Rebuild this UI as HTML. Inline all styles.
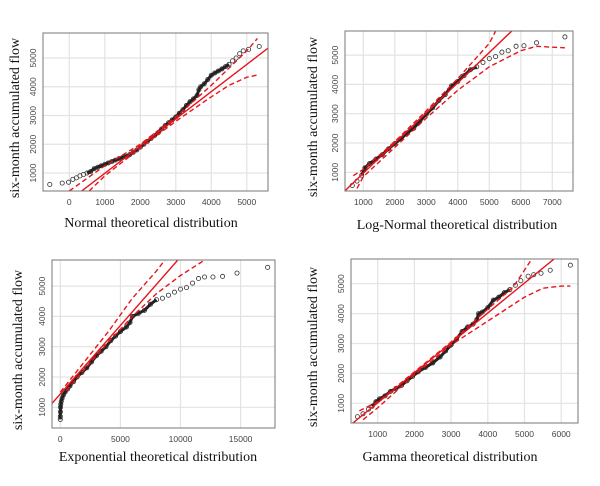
<!DOCTYPE html>
<html><head><meta charset="utf-8"><style>
html,body{margin:0;padding:0;background:#fff;}
svg{display:block;}
.tick{font-family:"Liberation Sans",sans-serif;font-size:8.5px;fill:#444;}
.title{font-family:"Liberation Serif",serif;font-size:14px;fill:#111;}
</style></head><body>
<svg id="c" width="600" height="486" viewBox="0 0 600 486" xmlns="http://www.w3.org/2000/svg"></svg>
<script>
// ---- Normal panel data
const normX=[-550,-200,-20,100,200,300,400,500,600,700,800,900,1000,1100,1200,1300,1400,1500,1600,1700,1800,1900,2000,2100,2200,2300,2400,2500,2600,2700,2800,2900,3000,3100,3200,3300,3400,3500,3600,3650,3700,3800,3900,4000,4100,4200,4300,4400,4500,4600,4700,4800,4900,5050,5350];
const normY=[600,650,680,780,830,900,950,1000,1050,1150,1200,1250,1300,1350,1400,1450,1500,1540,1580,1640,1720,1800,1900,2000,2100,2200,2300,2400,2530,2650,2750,2850,2950,3080,3200,3350,3480,3580,3700,3900,4000,4100,4250,4400,4480,4550,4620,4700,4780,4900,5000,5150,5250,5300,5400];
const normLine=[43,0.947];
const normBandX=[0,1000,2000,3000,4000,5000,5300];
const normBandU=[374,1250,2000,2950,4050,5250,5680];
const normLowX=[560,1000,2000,3000,4000,4500,5000,5350];
const normLowY=[374,900,1870,2800,3650,4050,4330,4420];
// ---- Log-normal panel data
const lnX=[650,800,950,1050,1200,1400,1600,1800,2000,2200,2400,2600,2800,3000,3200,3400,3600,3800,4000,4200,4400,4600,4800,5000,5200,5400,5600,5850,6100,6500,7400];
const lnY=[550,700,900,1150,1300,1450,1600,1800,1980,2150,2350,2500,2750,2980,3200,3450,3650,3950,4100,4300,4500,4600,4750,4880,4950,5100,5150,5300,5320,5420,5620];
const lnLine=[-62,1.03];
const lnBandX=[680,1000,2000,3000,4000,4500,5000,5200];
const lnBandU=[885,1100,2050,3100,4200,4800,5400,5820];
const lnLowX=[800,1000,2000,3000,4000,5000,6000,6500,7000,7400];
const lnLowY=[450,850,1850,2850,3800,4600,5150,5300,5270,5250];
// ---- Exponential panel data
const exX=[0,0,10,20,40,80,150,250,400,600,800,1100,1400,1800,2200,2600,3000,3400,3800,4200,4600,5000,5500,5800,6000,6500,7000,7500,8000,8500,9000,9500,10000,10500,11000,11500,12000,12700,13500,14700,17250];
const exY=[600,700,850,1000,1100,1200,1300,1400,1500,1600,1700,1850,2000,2150,2300,2500,2700,2850,3000,3200,3350,3500,3650,3800,4000,4100,4200,4400,4550,4600,4700,4800,4900,4950,5100,5250,5300,5300,5320,5430,5620];
const exLine=[1441,0.452];
const exBandX=[0,2000,4000,6000,8000,8700];
const exBandU=[1500,2500,3500,4600,5500,5858];
const exLowX=[500,2000,4000,6000,8000,10000,12000];
const exLowY=[1550,2250,3150,4000,4750,5350,5858];
// ---- Gamma panel data
const gaX=[450,600,750,850,950,1050,1200,1350,1500,1650,1800,1950,2100,2300,2500,2700,2850,3000,3150,3300,3450,3600,3700,3750,3850,4000,4150,4300,4450,4600,4750,4900,5100,5250,5450,5700,6250];
const gaY=[550,650,800,900,1050,1150,1250,1400,1500,1600,1750,1900,2050,2200,2350,2550,2750,2950,3150,3400,3550,3650,3800,4000,4050,4200,4450,4550,4700,4800,4950,5100,5250,5300,5350,5450,5620];
const gaLine=[16,1.001];
const gaBandX=[500,1000,2000,3000,4000,4700,5200];
const gaBandU=[750,1050,2050,3050,4150,4900,5826];
const gaLowX=[600,1000,2000,3000,4000,5000,5500,6000,6250];
const gaLowY=[450,850,1950,2950,3750,4550,4850,4920,4920];

const xTicksN=[0,1000,2000,3000,4000,5000];
const xTicksLN=[1000,2000,3000,4000,5000,6000,7000];
const xTicksEx=[0,5000,10000,15000];
const xTicksGa=[1000,2000,3000,4000,5000,6000];
const yTicks=[1000,2000,3000,4000,5000];

const NS="http://www.w3.org/2000/svg";
const svg=document.getElementById('c');
function mk(tag,attrs,parent){const e=document.createElementNS(NS,tag);for(const k in attrs)e.setAttribute(k,attrs[k]);(parent||svg).appendChild(e);return e;}

const panels=[
 {id:'normal',box:[43,33,268,191],xs:[69.3,35.5,0],ys:[173,28.75,1000],x:normX,y:normY,line:normLine,bux:normBandX,bu:normBandU,blx:normLowX,bl:normLowY,xt:xTicksN,title:'Normal theoretical distribution',tx:151,ty:227,ytx:14,tmin:500,tmax:4500},
 {id:'lognormal',box:[345,31,573,191],xs:[363.3,31.5,1000],ys:[172.3,29.3,1000],x:lnX,y:lnY,line:lnLine,bux:lnBandX,bu:lnBandU,blx:lnLowX,bl:lnLowY,xt:xTicksLN,title:'Log-Normal theoretical distribution',tx:457,ty:229,ytx:312,tmin:900,tmax:4600},
 {id:'exponential',box:[52,260,275,428],xs:[60.3,12.02,0],ys:[407.3,30.3,1000],x:exX,y:exY,line:exLine,bux:exBandX,bu:exBandU,blx:exLowX,bl:exLowY,xt:xTicksEx,title:'Exponential theoretical distribution',tx:158,ty:461,ytx:17,tmin:0,tmax:8000},
 {id:'gamma',box:[351,259,578,423],xs:[377.7,36.7,1000],ys:[403.3,29.9,1000],x:gaX,y:gaY,line:gaLine,bux:gaBandX,bu:gaBandU,blx:gaLowX,bl:gaLowY,xt:xTicksGa,title:'Gamma theoretical distribution',tx:450,ty:461,ytx:312,tmin:800,tmax:4700}
];

panels.forEach(p=>{
 const [x0,y0,x1,y1]=p.box;
 const sx=v=>p.xs[0]+(v-p.xs[2])/1000*p.xs[1];
 const sy=v=>p.ys[0]-(v-p.ys[2])/1000*p.ys[1];
 const g=mk('g',{});
 
 
 const cid='clip-'+p.id;
 const cp=mk('clipPath',{id:cid},g);mk('rect',{x:x0,y:y0,width:x1-x0,height:y1-y0},cp);
 const grid=mk('g',{stroke:'#e3e3e3','stroke-width':1.2},g);
 
 
 p.xt.forEach(t=>{mk('line',{x1:sx(t),x2:sx(t),y1:y0,y2:y1},grid);});
 yTicks.forEach(t=>{mk('line',{x1:x0,x2:x1,y1:sy(t),y2:sy(t)},grid);});
 p.xt.forEach(t=>{const e=mk('text',{x:sx(t),y:y1+14,'text-anchor':'middle',class:'tick'},g);e.textContent=t;
  
  });
 yTicks.forEach(t=>{const X=x0-7,Y=sy(t);const e=mk('text',{x:X,y:Y,'text-anchor':'middle',class:'tick',transform:`rotate(-90 ${X} ${Y})`},g);e.textContent=t;
  
  });
 const pl=mk('g',{'clip-path':`url(#${cid})`},g);
 const pts=mk('g',{fill:'none',stroke:'#333','stroke-width':0.8},pl);
 
 
 p.x.forEach((v,i)=>{mk('circle',{cx:sx(v),cy:sy(p.y[i]),r:2.1},pts);});
 const tr=[];p.x.forEach((v,i)=>{if(v>=p.tmin&&v<=p.tmax)tr.push(sx(v)+','+sy(p.y[i]));});
 const pth=mk('polyline',{points:tr.join(' '),fill:'none',stroke:'#222','stroke-width':3,'stroke-linejoin':'round'},pl);
 
 
 const xa=p.xs[2]-(p.xs[0]-x0)/p.xs[1]*1000, xb=p.xs[2]+(x1-p.xs[0])/p.xs[1]*1000;
 const ln=mk('line',{x1:sx(xa),y1:sy(p.line[0]+p.line[1]*xa),x2:sx(xb),y2:sy(p.line[0]+p.line[1]*xb),stroke:'#e8141a','stroke-width':1.4},pl);
 
 
 const bu=mk('polyline',{points:p.bux.map((v,i)=>sx(v)+','+sy(p.bu[i])).join(' '),fill:'none',stroke:'#e8141a','stroke-width':1.4,'stroke-dasharray':'5,3'},pl);
 
 
 const bl=mk('polyline',{points:p.blx.map((v,i)=>sx(v)+','+sy(p.bl[i])).join(' '),fill:'none',stroke:'#e8141a','stroke-width':1.4,'stroke-dasharray':'5,3'},pl);
 
 
 const fr=mk('rect',{x:x0,y:y0,width:x1-x0,height:y1-y0,fill:'none',stroke:'#777','stroke-width':1},g);
 
 
 const tt=mk('text',{x:p.tx,y:p.ty,'text-anchor':'middle',class:'title'},g);tt.textContent=p.title;
 
 
 const yc=(y0+y1)/2+6;
 const yt=mk('text',{x:p.ytx,y:yc,'text-anchor':'middle',class:'title',transform:`rotate(-90 ${p.ytx} ${yc})`,dy:5},g);yt.textContent='six-month accumulated flow';
 
 
});
</script>
</body></html>
